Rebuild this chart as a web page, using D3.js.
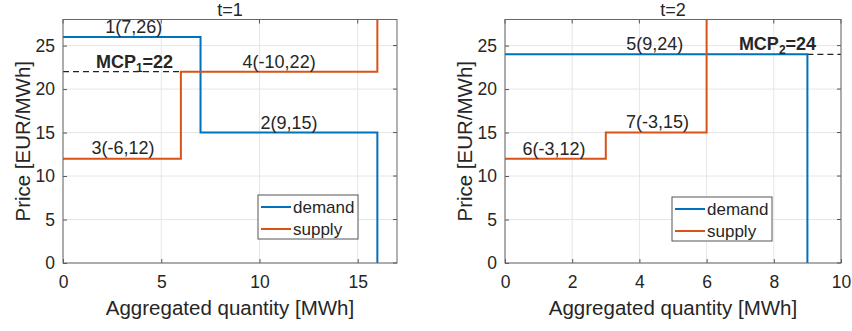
<!DOCTYPE html>
<html>
<head>
<meta charset="utf-8">
<script src="https://cdn.jsdelivr.net/npm/d3@7"></script>
<style>
  body { margin: 0; background: #fff; }
  svg text { font-family: "Liberation Sans", Arial, sans-serif; fill: #262626; }
</style>
</head>
<body>
<script>
// step curves, [quantity, price]
var demand1 = [[0, 26], [7, 26], [7, 15], [16, 15], [16, 0]];
var supply1 = [[0, 12], [6, 12], [6, 22], [16, 22], [16, 28]];
var demand2 = [[0, 24], [9, 24], [9, 0]];
var supply2 = [[0, 12], [3, 12], [3, 15], [6, 15], [6, 28]];

// market clearing price dashed line [x0, x1, price]
var mcp1 = [0, 6, 22];
var mcp2 = [9, 10, 24];

// bid labels: text, x, y (data units)
var labels1 = [["1(7,26)", 3.6, 26.4], ["4(-10,22)", 11.0, 22.4], ["2(9,15)", 11.5, 15.45], ["3(-6,12)", 3.05, 12.5]];
var labels2 = [["5(9,24)", 4.46, 24.45], ["7(-3,15)", 4.54, 15.5], ["6(-3,12)", 1.46, 12.45]];

var xTicks1 = [0, 5, 10, 15];
var xTicks2 = [0, 2, 4, 6, 8, 10];
var yTicks = [0, 5, 10, 15, 20, 25];

var blue = "#0072BD", orange = "#D95319";

var svg = d3.select("body").append("svg")
  .attr("width", 852).attr("height", 331);

function panel(opt) {
  var x = d3.scaleLinear().domain([0, opt.xmax]).range([opt.left, opt.right]);
  var y = d3.scaleLinear().domain([0, 28]).range([263, 19.5]);
  var g = svg.append("g");

  // grid
  g.selectAll(".gx").data(opt.xTicks).enter().append("line")
    .attr("x1", d => x(d)).attr("x2", d => x(d))
    .attr("y1", y(0)).attr("y2", y(28))
    .attr("stroke", "#e6e6e6").attr("stroke-width", 1);
  g.selectAll(".gy").data(yTicks).enter().append("line")
    .attr("x1", x(0)).attr("x2", x(opt.xmax))
    .attr("y1", d => y(d)).attr("y2", d => y(d))
    .attr("stroke", "#e6e6e6").attr("stroke-width", 1);

  // axes (ticks inside like matlab)
  var xAxis = g.append("g").attr("transform", "translate(0," + y(0) + ")")
    .call(d3.axisBottom(x).tickValues(opt.xTicks).tickSize(-4).tickPadding(13));
  var yAxis = g.append("g").attr("transform", "translate(" + x(0) + ",0)")
    .call(d3.axisLeft(y).tickValues(yTicks).tickSize(-4).tickPadding(8));
  [xAxis, yAxis].forEach(function(a) {
    a.select(".domain").remove();
    a.selectAll("line").attr("stroke", "#555");
    a.selectAll("text").style("font-size", "17.5px").attr("fill", "#262626");
  });
  // top / right ticks
  g.selectAll(".tt").data(opt.xTicks).enter().append("line")
    .attr("x1", d => x(d)).attr("x2", d => x(d))
    .attr("y1", y(28)).attr("y2", y(28) + 4).attr("stroke", "#555");
  g.selectAll(".tr").data(yTicks).enter().append("line")
    .attr("x1", x(opt.xmax)).attr("x2", x(opt.xmax) - 4)
    .attr("y1", d => y(d)).attr("y2", d => y(d)).attr("stroke", "#555");

  var line = d3.line().x(d => x(d[0])).y(d => y(d[1]));

  // dashed MCP
  g.append("line")
    .attr("x1", x(opt.mcp[0])).attr("x2", x(opt.mcp[1]))
    .attr("y1", y(opt.mcp[2])).attr("y2", y(opt.mcp[2]))
    .attr("stroke", "#222").attr("stroke-width", 1.2)
    .attr("stroke-dasharray", "6,4");

  g.append("path").datum(opt.demand).attr("d", line)
    .attr("fill", "none").attr("stroke", blue).attr("stroke-width", 2);
  g.append("path").datum(opt.supply).attr("d", line)
    .attr("fill", "none").attr("stroke", orange).attr("stroke-width", 2);

  // box
  g.append("rect").attr("x", x(0)).attr("y", y(28))
    .attr("width", x(opt.xmax) - x(0)).attr("height", y(0) - y(28))
    .attr("fill", "none").attr("stroke", "#666").attr("stroke-width", 1);

  // bid labels
  g.selectAll(".lbl").data(opt.labels).enter().append("text")
    .attr("x", d => x(d[1])).attr("y", d => y(d[2]))
    .attr("text-anchor", "middle").style("font-size", "18px")
    .text(d => d[0]);

  // MCP label
  var m = g.append("text").attr("x", x(opt.mcpLabel[0])).attr("y", y(opt.mcpLabel[1]))
    .attr("text-anchor", "middle").style("font-size", "18px").style("font-weight", "bold");
  m.append("tspan").text("MCP");
  m.append("tspan").attr("dy", 4).style("font-size", "12px").text(opt.sub);
  m.append("tspan").attr("dy", -4).text("=" + opt.mcp[2]);

  // title
  g.append("text").attr("x", (opt.left + opt.right) / 2).attr("y", 16)
    .attr("text-anchor", "middle").style("font-size", "18px").text(opt.title);

  // axis labels
  g.append("text").attr("x", (opt.left + opt.right) / 2).attr("y", 315)
    .attr("text-anchor", "middle").style("font-size", "20.5px")
    .text("Aggregated quantity [MWh]");
  g.append("text")
    .attr("transform", "translate(" + (opt.left - 33) + "," + y(14) + ") rotate(-90)")
    .attr("text-anchor", "middle").style("font-size", "20.5px")
    .text("Price [EUR/MWh]");

  // legend
  var lg = g.append("g").attr("transform", "translate(" + opt.legend[0] + "," + opt.legend[1] + ")");
  lg.append("rect").attr("width", 100).attr("height", 44)
    .attr("fill", "#fff").attr("stroke", "#555").attr("stroke-width", 1);
  [["demand", blue], ["supply", orange]].forEach(function(d, i) {
    lg.append("line").attr("x1", 3).attr("x2", 33)
      .attr("y1", 12 + i * 22).attr("y2", 12 + i * 22)
      .attr("stroke", d[1]).attr("stroke-width", 2);
    lg.append("text").attr("x", 35).attr("y", 12 + i * 22 + 6)
      .style("font-size", "17px").text(d[0]);
  });
}

panel({ left: 63, right: 397, xmax: 17, xTicks: xTicks1, demand: demand1, supply: supply1,
  mcp: mcp1, sub: "1", mcpLabel: [3.64, 22.4], labels: labels1, title: "t=1", legend: [258, 195] });
panel({ left: 505, right: 841, xmax: 10, xTicks: xTicks2, demand: demand2, supply: supply2,
  mcp: mcp2, sub: "2", mcpLabel: [8.11, 24.45], labels: labels2, title: "t=2", legend: [672, 197] });
</script>
</body>
</html>
